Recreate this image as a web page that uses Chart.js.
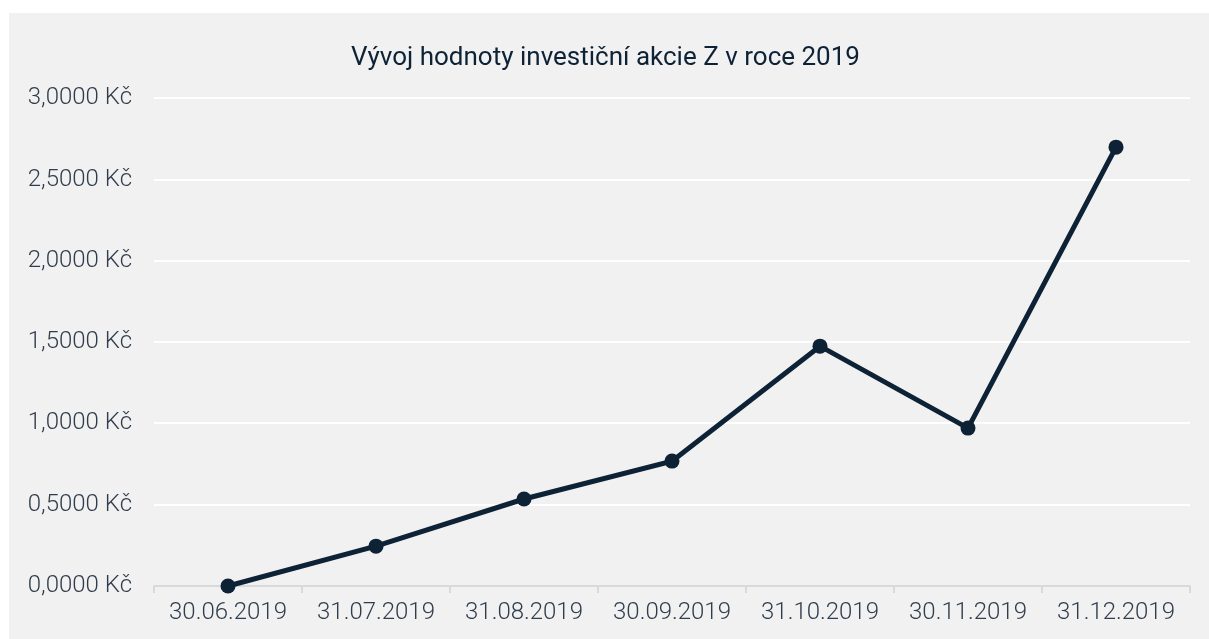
<!DOCTYPE html>
<html>
<head>
<meta charset="utf-8">
<script src="https://cdn.jsdelivr.net/npm/chart.js@4"></script>
<style>
  body { margin: 0; background: #fff; }
  #box { position: absolute; left: 9px; top: 13px; width: 1200px; height: 626px; background: #f1f1f1; }
</style>
</head>
<body>
<div id="box"><canvas id="myChart" width="1200" height="626"></canvas></div>
<script>
let labels = ['30.06.2019', '31.07.2019', '31.08.2019', '30.09.2019', '31.10.2019', '30.11.2019', '31.12.2019']
let hodnoty = [0, 0.245, 0.535, 0.768, 1.475, 0.971, 2.699]
let yMin = 0
let yMax = 3
let yStep = 0.5

let barvaCary = '#0e2236'
let barvaTextu = '#303d4c'

let ctx = document.getElementById('myChart').getContext('2d')

let myChart = new Chart(ctx, {
  type: 'line',
  data: {
    labels: labels,
    datasets: [{
      label: 'Hodnota',
      data: hodnoty,
      borderColor: barvaCary,
      backgroundColor: barvaCary,
      borderWidth: 5,
      pointRadius: 7.5,
      pointBackgroundColor: barvaCary,
      pointBorderWidth: 0,
      fill: false,
      tension: 0,
      clip: false
    }]
  },
  options: {
    responsive: false,
    animation: false,
    layout: { padding: { left: 12, right: 19, top: 0, bottom: 0 } },
    plugins: {
      legend: { display: false },
      tooltip: { enabled: false },
      title: {
        display: true,
        text: 'Vývoj hodnoty investiční akcie Z v roce 2019',
        color: barvaCary,
        font: { family: 'Roboto', size: 26, weight: 'normal' },
        padding: { top: 30, bottom: 24 }
      }
    },
    scales: {
      x: {
        offset: true,
        grid: {
          offset: true,
          drawOnChartArea: false,
          drawTicks: true,
          tickLength: 7,
          color: '#d9d9d9',
          lineWidth: 2
        },
        border: { color: '#d9d9d9', width: 2 },
        ticks: {
          color: barvaTextu,
          font: { family: 'Roboto', size: 24, weight: 300 },
          padding: 6,
          maxRotation: 0
        },
        afterFit: (scale) => { scale.height = 53 }
      },
      y: {
        min: yMin,
        max: yMax,
        grid: {
          color: '#ffffff',
          lineWidth: 2,
          drawTicks: false
        },
        border: { display: false },
        ticks: {
          stepSize: yStep,
          color: barvaTextu,
          font: { family: 'Roboto', size: 24, weight: 300 },
          padding: 22,
          callback: (v) => v.toFixed(4).replace('.', ',') + ' Kč'
        },
        afterFit: (scale) => { scale.width = 133 }
      }
    }
  }
})
</script>
</body>
</html>
